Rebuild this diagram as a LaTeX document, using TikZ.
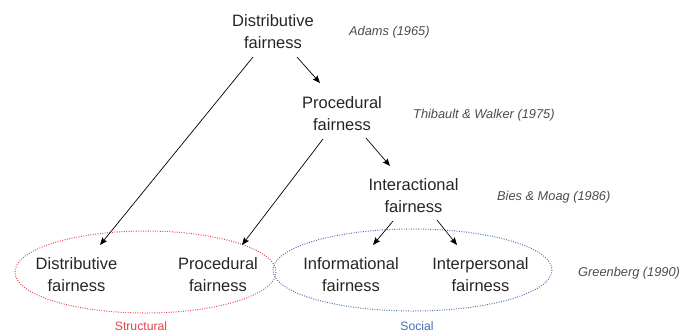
\documentclass[tikz,border=0pt]{standalone}
\usepackage{fontspec}
\setmainfont{Liberation Sans}
\usetikzlibrary{arrows.meta,calc}

\definecolor{structred}{HTML}{E2434C}
\definecolor{socialblue}{HTML}{4A6DB3}

\tikzset{
  concept/.style={align=center, inner sep=0pt, text=black!85,
    font=\fontsize{16.5}{22}\selectfont},
  citation/.style={anchor=base west, inner sep=0pt, text=black!70,
    font=\fontsize{12.8}{15}\selectfont\itshape},
  grouplabel/.style={anchor=base, inner sep=0pt,
    font=\fontsize{12.2}{14}\selectfont},
  link/.style={line width=0.7pt, black,
    -{Stealth[length=7.5pt,width=6pt,inset=1.2pt]}},
  groupring/.style={line width=1pt, dash pattern=on 0.9pt off 1.5pt}
}

\begin{document}
\begin{tikzpicture}[x=1pt,y=-1pt]
\useasboundingbox (0,0) rectangle (680,333);

% groups of fairness types
\draw[groupring, structred] (145.5,272) ellipse [x radius=130.5, y radius=41];
\draw[groupring, socialblue] (412.5,270) ellipse [x radius=139.5, y radius=41];

% concepts
\node[concept] (dtop)   at (273,31.5)   {Distributive\\fairness};
\node[concept] (proc)   at (342,113.5)  {Procedural\\fairness};
\node[concept] (inter)  at (413.5,195.5){Interactional\\fairness};
\node[concept] (dbot)   at (76.5,274.5) {Distributive\\fairness};
\node[concept] (pbot)   at (218,274.5)  {Procedural\\fairness};
\node[concept] (info)   at (351,274.5)  {Informational\\fairness};
\node[concept] (interp) at (480.5,274.5){Interpersonal\\fairness};

% citations
\node[citation] (adams)  at (349,35)  {Adams (1965)};
\node[citation] (thib)   at (413,118) {Thibault \& Walker (1975)};
\node[citation] (bies)   at (497,200) {Bies \& Moag (1986)};
\node[citation] (green)  at (578,276) {Greenberg (1990)};

% group labels
\node[grouplabel, text=structred] (structlbl) at (141,330) {Structural};
\node[grouplabel, text=socialblue] (sociallbl) at (417,330) {Social};

% connectors
\draw[link] ($(dtop)+(24,25.5)$)   -- ($(proc)+(-22,-30.5)$);
\draw[link] ($(dtop)+(-20,25.5)$)  -- ($(dbot)+(23.5,-29.5)$);
\draw[link] ($(proc)+(24,24.5)$)   -- ($(inter)+(-23.5,-29.5)$);
\draw[link] ($(proc)+(-19,25.5)$)  -- ($(pbot)+(24,-29.5)$);
\draw[link] ($(inter)+(-20.5,25.5)$) -- ($(info)+(22,-29.5)$);
\draw[link] ($(inter)+(23.5,24.5)$)  -- ($(interp)+(-23.5,-29.5)$);
\end{tikzpicture}
\end{document}
